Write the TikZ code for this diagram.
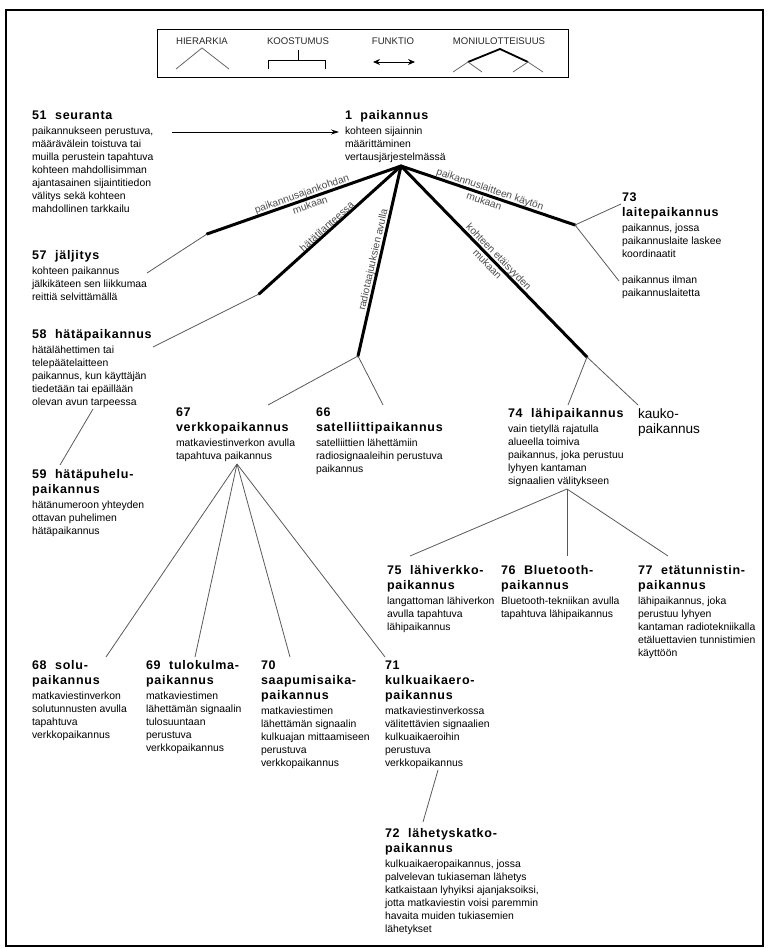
\documentclass[tikz,border=0pt]{standalone}
\usepackage{fontspec}
\setmainfont{Liberation Sans}
\newfontfamily\ttlfam[LetterSpace=6]{Liberation Sans}
\usetikzlibrary{arrows.meta}
\newcommand\tfont{\ttlfam\bfseries\fontsize{12.5}{15}\selectfont}
\newcommand\bfnt{\fontsize{10.4}{13}\selectfont}
\newcommand\lfont{\fontsize{10.2}{12}\selectfont}
\newcommand\gfont{\fontsize{9.6}{11}\selectfont}
\newcommand\Tl[1]{\baselineskip=15pt\hbox{\tfont #1}}
\newcommand\Bf[1]{\baselineskip=15pt\hbox{\bfnt #1}}
\newcommand\Bl[1]{\baselineskip=13pt\hbox{\bfnt #1}}
\newcommand\VB[1]{\vtop{\lineskiplimit=-100pt\lineskip=0pt #1}}
\begin{document}
\begin{tikzpicture}[x=1pt,y=-1pt,
  blk/.style={anchor=base west,inner sep=0pt,outer sep=0pt},
  thinline/.style={draw=black!65,line width=0.8pt},
  thickline/.style={draw=black,line width=3pt,line cap=round,line join=round},
  lbl/.style={font=\lfont,text=black!70,sloped,inner sep=1pt},
  lblb/.style={font=\lfont,text=black!70,sloped,inner sep=2.5pt},
  lgd/.style={font=\gfont,text=black!85,inner sep=0pt}]
\useasboundingbox (0,0) rectangle (769,949);
\draw[line width=1.3pt] (6,10) rectangle (763,946);

% legend
\draw[line width=0.9pt] (157,29) rectangle (568,77);
\node[lgd] (lg1) at (202,41) {HIERARKIA};
\node[lgd] (lg2) at (298,41) {KOOSTUMUS};
\node[lgd] (lg3) at (393,41) {FUNKTIO};
\node[lgd] (lg4) at (499,41) {MONIULOTTEISUUS};
\draw[draw=black!60,line width=0.8pt] (176,69) -- (202,48) -- (229,69);
\draw[line width=0.8pt] (298,50) -- (298,60) (268,69) -- (268,60) -- (325,60) -- (325,69);
\draw[{Stealth[length=7pt,width=6pt]}-{Stealth[length=7pt,width=6pt]},line width=0.8pt] (373,62) -- (415,62);
\draw[line width=1.8pt] (468,62) -- (500,49) -- (528,62);
\draw[draw=black!60,line width=0.8pt] (453,72) -- (468,62) -- (482,72) (513,72) -- (528,62) -- (543,72);

% entries
\node[blk] (n51) at (32,120) {\VB{\Tl{51\ \ seuranta}\Bf{paikannukseen perustuva,}\Bl{määrävälein toistuva tai}\Bl{muilla perustein tapahtuva}\Bl{kohteen mahdollisimman}\Bl{ajantasainen sijaintitiedon}\Bl{välitys sekä kohteen}\Bl{mahdollinen tarkkailu}}};
\node[blk] (n1) at (345,120) {\VB{\Tl{1\ \ paikannus}\Bf{kohteen sijainnin}\Bl{määrittäminen}\Bl{vertausjärjestelmässä}}};
\node[blk] (n73) at (622,201.5) {\VB{\Tl{73}\Tl{laitepaikannus}\Bf{paikannus, jossa}\Bl{paikannuslaite laskee}\Bl{koordinaatit}}};
\node[blk] (n73b) at (622,283.5) {\VB{\Bl{paikannus ilman}\Bl{paikannuslaitetta}}};
\node[blk] (n57) at (32,259.5) {\VB{\Tl{57\ \ jäljitys}\Bf{kohteen paikannus}\Bl{jälkikäteen sen liikkumaa}\Bl{reittiä selvittämällä}}};
\node[blk] (n58) at (32,338.5) {\VB{\Tl{58\ \ hätäpaikannus}\Bf{hätälähettimen tai}\Bl{telepäätelaitteen}\Bl{paikannus, kun käyttäjän}\Bl{tiedetään tai epäillään}\Bl{olevan avun tarpeessa}}};
\node[blk] (n59) at (32,478.5) {\VB{\Tl{59\ \ hätäpuhelu-}\Tl{paikannus}\Bf{hätänumeroon yhteyden}\Bl{ottavan puhelimen}\Bl{hätäpaikannus}}};
\node[blk] (n67) at (176,416.5) {\VB{\Tl{67}\Tl{verkkopaikannus}\Bf{matkaviestinverkon avulla}\Bl{tapahtuva paikannus}}};
\node[blk] (n66) at (316,416.5) {\VB{\Tl{66}\Tl{satelliittipaikannus}\Bf{satelliittien lähettämiin}\Bl{radiosignaaleihin perustuva}\Bl{paikannus}}};
\node[blk] (n74) at (508,417.5) {\VB{\Tl{74\ \ lähipaikannus}\Bf{vain tietyllä rajatulla}\Bl{alueella toimiva}\Bl{paikannus, joka perustuu}\Bl{lyhyen kantaman}\Bl{signaalien välitykseen}}};
\node[blk,font=\fontsize{13.6}{15}\selectfont,align=left] (nk) at (638,418) {\VB{\baselineskip=15pt\hbox{kauko-}\hbox{paikannus}}};
\node[blk] (n75) at (387,574.5) {\VB{\Tl{75\ \ lähiverkko-}\Tl{paikannus}\Bf{langattoman lähiverkon}\Bl{avulla tapahtuva}\Bl{lähipaikannus}}};
\node[blk] (n76) at (501,574.5) {\VB{\Tl{76\ \ Bluetooth-}\Tl{paikannus}\Bf{Bluetooth-tekniikan avulla}\Bl{tapahtuva lähipaikannus}}};
\node[blk] (n77) at (638,574.5) {\VB{\Tl{77\ \ etätunnistin-}\Tl{paikannus}\Bf{lähipaikannus, joka}\Bl{perustuu lyhyen}\Bl{kantaman radiotekniikalla}\Bl{etäluettavien tunnistimien}\Bl{käyttöön}}};
\node[blk] (n68) at (32,669.5) {\VB{\Tl{68\ \ solu-}\Tl{paikannus}\Bf{matkaviestinverkon}\Bl{solutunnusten avulla}\Bl{tapahtuva}\Bl{verkkopaikannus}}};
\node[blk] (n69) at (146,669.5) {\VB{\Tl{69\ \ tulokulma-}\Tl{paikannus}\Bf{matkaviestimen}\Bl{lähettämän signaalin}\Bl{tulosuuntaan}\Bl{perustuva}\Bl{verkkopaikannus}}};
\node[blk] (n70) at (261,669.5) {\VB{\Tl{70}\Tl{saapumisaika-}\Tl{paikannus}\Bf{matkaviestimen}\Bl{lähettämän signaalin}\Bl{kulkuajan mittaamiseen}\Bl{perustuva}\Bl{verkkopaikannus}}};
\node[blk] (n71) at (385,669.5) {\VB{\Tl{71}\Tl{kulkuaikaero-}\Tl{paikannus}\Bf{matkaviestinverkossa}\Bl{välitettävien signaalien}\Bl{kulkuaikaeroihin}\Bl{perustuva}\Bl{verkkopaikannus}}};
\node[blk] (n72) at (385,837.5) {\VB{\Tl{72\ \ lähetyskatko-}\Tl{paikannus}\Bf{kulkuaikaeropaikannus, jossa}\Bl{palvelevan tukiaseman lähetys}\Bl{katkaistaan lyhyiksi ajanjaksoiksi,}\Bl{jotta matkaviestin voisi paremmin}\Bl{havaita muiden tukiasemien}\Bl{lähetykset}}};

% coordinates
\coordinate (a51) at (172,132);
\coordinate (a1) at (339,132);
\coordinate (apex) at (401,166);
\coordinate (j1) at (207,234);
\coordinate (j2) at (259,294);
\coordinate (j3) at (358,356);
\coordinate (j4) at (587,357);
\coordinate (j5) at (575,225);
\coordinate (e57) at (147,273);
\coordinate (e58) at (153,347);
\coordinate (e67) at (268,405);
\coordinate (e66) at (383,405);
\coordinate (e74) at (568,405);
\coordinate (ek) at (638,405);
\coordinate (e73a) at (621,204);
\coordinate (e73b) at (619,281);
\coordinate (s58) at (93,409);
\coordinate (e59) at (60,465);
\coordinate (p67) at (237,464);
\coordinate (e68) at (106,657);
\coordinate (e69) at (195,657);
\coordinate (e70) at (290,657);
\coordinate (e71) at (385,657);
\coordinate (p74) at (567,489);
\coordinate (e75) at (410,556);
\coordinate (e76) at (567,556);
\coordinate (e77) at (668,556);
\coordinate (s71) at (438,770);
\coordinate (e72) at (423,822);

% function arrow
\draw[-{Stealth[length=8pt,width=5pt]},line width=0.8pt] (a51) -- (a1);

% thick lines
\draw[thickline] (apex) -- (j1);
\draw[thickline] (apex) -- (j2);
\draw[thickline] (apex) -- (j3);
\draw[thickline] (apex) -- (j4);
\draw[thickline] (apex) -- (j5);
\path (j1) -- (apex) node[lbl,pos=.5,above]{paikannusajankohdan} node[lblb,pos=.52,below]{mukaan};
\path (j2) -- (apex) node[lbl,pos=.5,above]{hätätilanteessa};
\path (j3) -- (apex) node[lbl,pos=.5,above]{radiotaajuuksien avulla};
\path (apex) -- (j4) node[lbl,pos=.5,above]{kohteen etäisyyden} node[lblb,pos=.49,below]{mukaan};
\path (apex) -- (j5) node[lbl,pos=.5,above]{paikannuslaitteen käytön} node[lblb,pos=.49,below]{mukaan};

% thin lines
\draw[thinline] (j1) -- (e57);
\draw[thinline] (j2) -- (e58);
\draw[thinline] (j3) -- (e67);
\draw[thinline] (j3) -- (e66);
\draw[thinline] (j4) -- (e74);
\draw[thinline] (j4) -- (ek);
\draw[thinline] (j5) -- (e73a);
\draw[thinline] (j5) -- (e73b);
\draw[thinline] (s58) -- (e59);
\draw[thinline] (p67) -- (e68);
\draw[thinline] (p67) -- (e69);
\draw[thinline] (p67) -- (e70);
\draw[thinline] (p67) -- (e71);
\draw[thinline] (p74) -- (e75);
\draw[thinline] (p74) -- (e76);
\draw[thinline] (p74) -- (e77);
\draw[thinline] (s71) -- (e72);
\end{tikzpicture}
\end{document}
